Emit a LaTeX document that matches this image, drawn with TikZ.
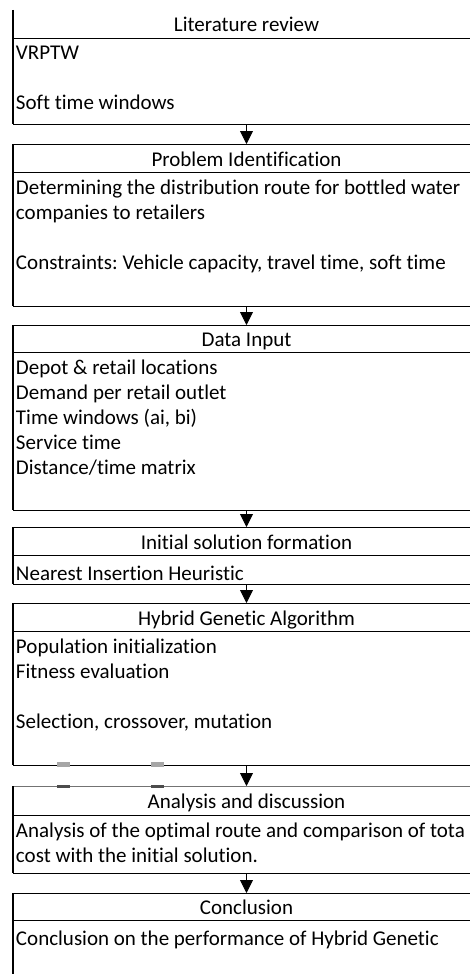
\documentclass[tikz,border=0pt]{standalone}
\usepackage{fontspec}
\setmainfont[Ligatures=NoCommon]{Carlito}
\usetikzlibrary{arrows.meta,positioning}
\frenchspacing
\tikzset{
  head/.style={draw, line width=0.9pt, minimum width=467pt, inner sep=0pt, outer sep=0pt, text height=16pt, text depth=0pt},
  frame/.style={draw, line width=0.9pt, minimum width=467pt, inner sep=0pt, outer sep=0pt},
  txt/.style={align=left, inner sep=0pt, outer sep=0pt, execute at begin node=\strut},
  arr/.style={line width=0.9pt, -{Triangle[width=13pt,length=13pt]}},
  leftedge/.style={line width=2.2pt},
}
\begin{document}
\begin{tikzpicture}[x=1pt,y=1pt,font=\fontsize{21}{25}\selectfont]
\useasboundingbox (0,0) rectangle (469,-974);
% stages
\node[head, draw=none, minimum height=28pt] (lit) at (246.5,-24) {Literature review};
\node[frame, minimum height=86pt, below=0pt of lit] (lit-b) {};
\node[txt, below right=8pt and 3pt of lit-b.north west] (lit-t) {VRPTW\\[25pt]Soft time windows};

\node[head, minimum height=28pt] (prob) at (246.5,-158) {Problem Identification};
\node[frame, minimum height=134pt, below=0pt of prob] (prob-b) {};
\node[txt, below right=8pt and 3pt of prob-b.north west] (prob-t) {Determining the distribution route for bottled water\\companies to retailers\\[25pt]Constraints: Vehicle capacity, travel time, soft time};

\node[head, minimum height=27pt] (data) at (246.5,-338.5) {Data Input};
\node[frame, minimum height=158pt, below=0pt of data] (data-b) {};
\node[txt, below right=8pt and 3pt of data-b.north west] (data-t) {Depot \& retail locations\\Demand per retail outlet\\Time windows (ai, bi)\\Service time\\Distance/time matrix};

\node[head, minimum height=28pt] (init) at (246.5,-541) {Initial solution formation};
\node[frame, minimum height=29pt, below=0pt of init] (init-b) {};
\node[txt, below right=8pt and 3pt of init-b.north west] (init-t) {Nearest Insertion Heuristic};

\node[head, minimum height=28pt] (hga) at (246.5,-617) {Hybrid Genetic Algorithm};
\node[frame, minimum height=134pt, below=0pt of hga] (hga-b) {};
\node[txt, below right=8pt and 3pt of hga-b.north west] (hga-t) {Population initialization\\Fitness evaluation\\[25pt]Selection, crossover, mutation};

\node[head, draw=black!55, minimum height=29pt] (anal) at (246.5,-800.5) {Analysis and discussion};
\node[frame, minimum height=58pt, below=0pt of anal] (anal-b) {};
\node[txt, below right=8pt and 3pt of anal-b.north west] (anal-t) {Analysis of the optimal route and comparison of tota\\cost with the initial solution.};

\node[head, minimum height=27pt] (conc) at (246.5,-906.5) {Conclusion};
\node[frame, minimum height=80pt, below=0pt of conc] (conc-b) {};
\node[txt, below right=8pt and 3pt of conc-b.north west] (conc-t) {Conclusion on the performance of Hybrid Genetic};

% thick left borders
\foreach \s in {lit,prob,data,init,hga,anal,conc}
  \draw[leftedge] (\s.north west) -- (\s-b.south west);

% arrows
\foreach \a/\b in {lit-b/prob,prob-b/data,data-b/init,init-b/hga,hga-b/anal,anal-b/conc}
  \draw[arr] (\a.south) -- (\b.north);

% small marks under the GA box
\foreach \x in {57,151} {
  \fill[black!35] (\x,-762) rectangle ++(13,-5);
  \fill[black!70] (\x,-785) rectangle ++(13,-3);
}
\end{tikzpicture}
\end{document}
